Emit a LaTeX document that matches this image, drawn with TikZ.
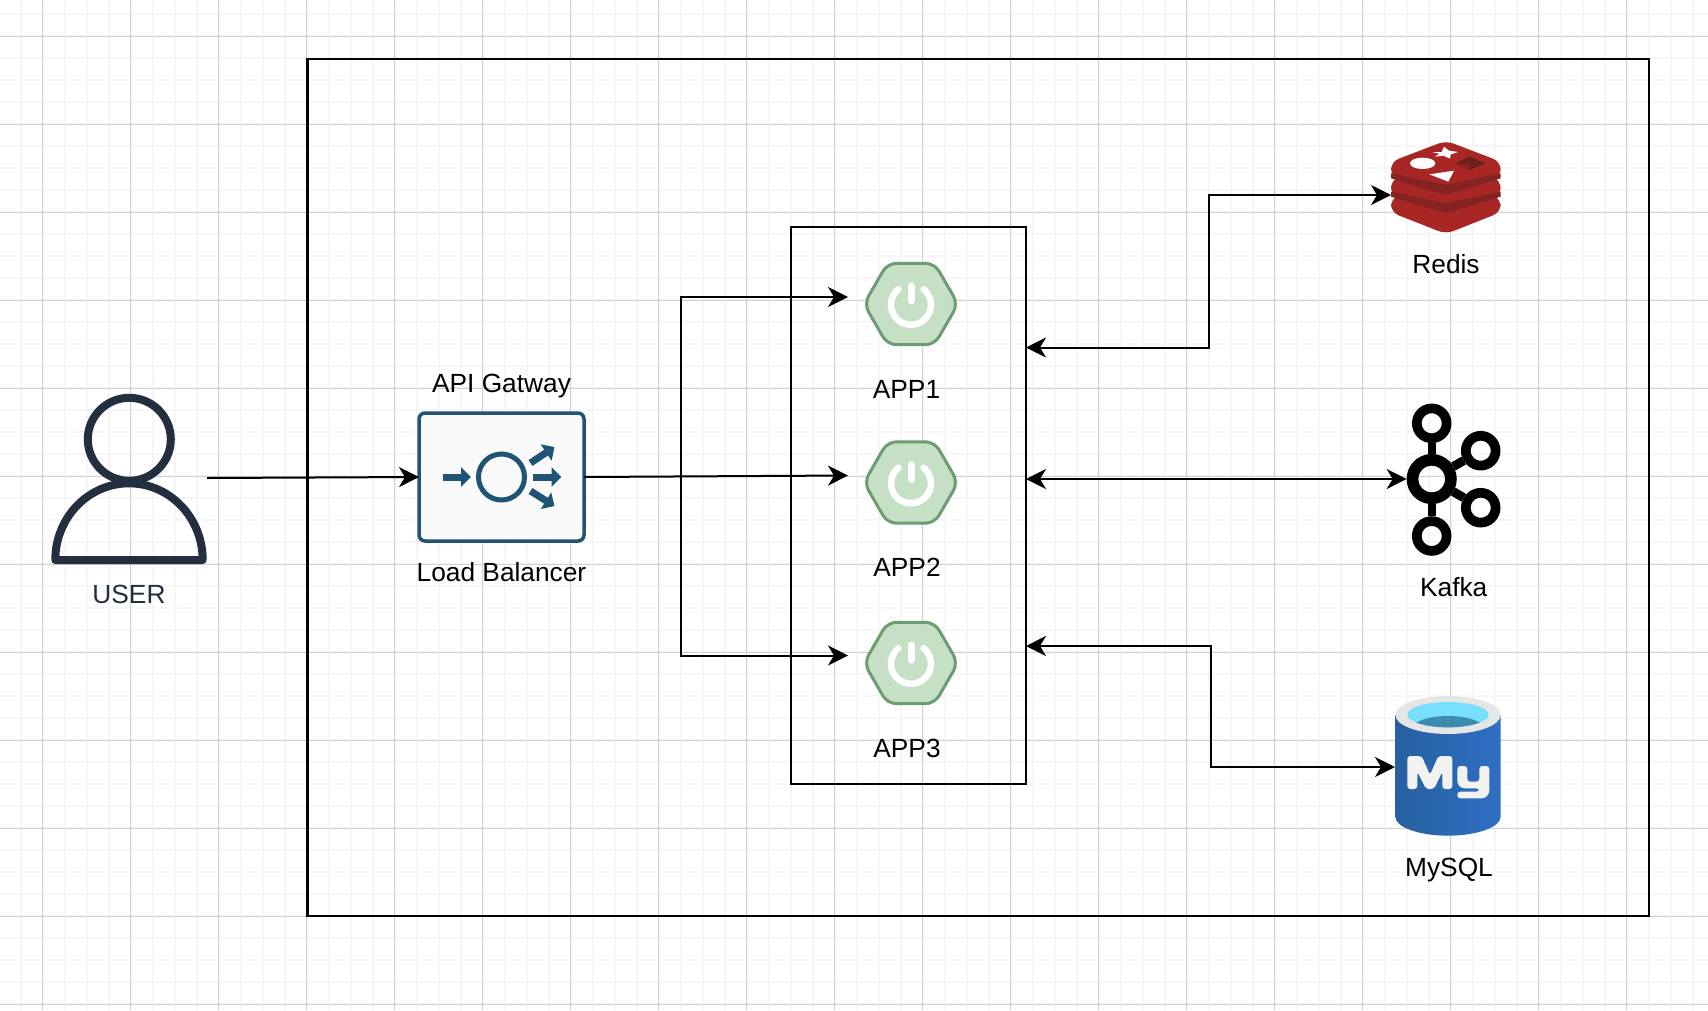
\documentclass[tikz,border=0pt]{standalone}
\usepackage{fontspec}
\setmainfont{Liberation Sans}
\usetikzlibrary{shapes.geometric, arrows.meta, positioning}

\definecolor{gridmajor}{HTML}{D0D0D0}
\definecolor{gridminor}{HTML}{F6F6F6}
\definecolor{userink}{HTML}{232F3E}
\definecolor{lbink}{HTML}{1F5475}
\definecolor{lbfill}{HTML}{FAFAFA}
\definecolor{appfill}{HTML}{C6E0C5}
\definecolor{appline}{HTML}{6D9B72}
\definecolor{redisred}{HTML}{A82623}
\definecolor{redisdark}{HTML}{842321}
\definecolor{redisdeep}{HTML}{6B1F1B}
\definecolor{myleft}{HTML}{26609F}
\definecolor{myright}{HTML}{2F6FC4}
\definecolor{myrim}{HTML}{E6E6E6}
\definecolor{mywater}{HTML}{76E0FD}
\definecolor{mydeep}{HTML}{3F8BB0}
\definecolor{myletter}{HTML}{F2F2F2}

\begin{document}
\begin{tikzpicture}[
    x=1pt, y=-1pt,
    frame/.style={
        rectangle,
        draw,
        line width=2.4pt,
        inner sep=0pt,
        outer sep=0pt
    },
    hidden/.style={
        rectangle,
        inner sep=0pt,
        outer sep=0pt
    },
    label/.style={
        font=\fontsize{26.3}{30}\selectfont,
        inner sep=0pt,
        text height=19pt,
        text depth=5pt
    },
    app/.style={
        regular polygon,
        regular polygon sides=6,
        draw=appline,
        fill=appfill,
        line width=3pt,
        rounded corners=9pt,
        minimum size=94pt,
        inner sep=0pt,
        outer sep=0pt
    },
    bigring/.style={
        circle,
        draw,
        line width=11.7pt,
        minimum size=38.4pt,
        inner sep=0pt
    },
    smallring/.style={
        circle,
        draw,
        line width=9.7pt,
        minimum size=29.8pt,
        inner sep=0pt
    },
    arrow/.style={-{Stealth[length=20pt,width=20pt,inset=6pt]},line width=2pt},
    biarrow/.style={{Stealth[length=20pt,width=20pt,inset=6pt]}-{Stealth[length=20pt,width=20pt,inset=6pt]},line width=2pt},
    lbarrow/.style={-{Triangle[length=10pt,width=19pt]},line width=7pt,draw=lbink},
    springpower/.pic={
        \draw[white,line width=6.5pt,line cap=round] (-12.6,-14.8) arc[start angle=129,end angle=411,radius=20pt];
        \draw[white,line width=7pt,line cap=round] (0,-18) -- (0,-3);
    }
]
\useasboundingbox (0,0) rectangle (1708,1010);
\fill[white] (0,0) rectangle (1708,1010);

% grid paper
\foreach \i in {0,...,77}
    \draw[gridminor,line width=2pt] (20.5+22*\i,0) -- (20.5+22*\i,1010);
\foreach \i in {0,...,45}
    \draw[gridminor,line width=2pt] (0,14+22*\i) -- (1708,14+22*\i);
\foreach \i in {0,...,19}
    \draw[gridmajor,line width=1pt] (42.5+88*\i,0) -- (42.5+88*\i,1010);
\foreach \i in {0,...,11}
    \draw[gridmajor,line width=1pt] (0,36+88*\i) -- (1708,36+88*\i);

% boxes
\node[frame, minimum width=1341.5pt, minimum height=857pt] (cloud) at (978.25,487.5) {};
\node[frame, minimum width=235pt, minimum height=557pt] (appbox) at (908.5,505.5) {};

% user
\node[hidden, minimum width=156pt, minimum height=176pt] (user) at (129,478) {};
\draw[userink,line width=8pt] (129.3,439.3) circle[radius=41.5pt];
\draw[userink,line width=8pt,line join=round] (55.3,560) arc[start angle=180,end angle=0,x radius=73.7pt,y radius=76.7pt] -- cycle;
\node[label, text=userink, below=18pt of user] (userlabel) {USER};

% gateway
\node[draw=lbink, fill=lbfill, line width=3.5pt, rounded corners=6pt, minimum width=165pt, minimum height=128pt, inner sep=0pt, outer sep=0pt] (lb) at (501.5,477) {};
\node[circle, draw=lbink, line width=5pt, minimum size=46pt, inner sep=0pt] (lbhub) at (lb) {};
\begin{scope}[shift={(lb.center)}]
    \draw[lbarrow] (-58.8,0) -- (-30.5,0);
    \draw[lbarrow] (31,0) -- (60,0);
    \draw[lbarrow] (29,-14) -- (53,-30);
    \draw[lbarrow] (29,14) -- (53,29);
\end{scope}
\node[label, above=15pt of lb] (lbtop) {API Gatway};
\node[label, below=21pt of lb] (lbbottom) {Load Balancer};

% apps
\node[app] (app1) at (911,304) {};
\node[app] (app2) at (911,482.5) {};
\node[app] (app3) at (911,663) {};
\pic at (app1) {springpower};
\pic at (app2) {springpower};
\pic at (app3) {springpower};
\node[label, below=35pt of app1, xshift=-4.5pt] (app1label) {APP1};
\node[label, below=34pt of app2, xshift=-4pt] (app2label) {APP2};
\node[label, below=35pt of app3, xshift=-4pt] (app3label) {APP3};

% redis
\node[hidden, minimum width=110pt, minimum height=90pt] (redis) at (1446,195) {};
\begin{scope}[shift={(1360,120)},x=0.3333pt,y=-0.3333pt]
    \fill[redisred,rounded corners=8pt] (93,235) -- (258,172) -- (422,235) -- (422,277) -- (258,342) -- (93,277) -- cycle;
    \fill[redisred,rounded corners=8pt] (93,180) -- (258,117) -- (422,180) -- (422,226) -- (258,290) -- (93,226) -- cycle;
    \fill[redisred,rounded corners=8pt] (93,125) -- (258,62) -- (422,125) -- (422,170) -- (258,232) -- (93,170) -- cycle;
    \fill[redisdark] (93,160) -- (258,195) -- (422,160) -- (422,175) -- (258,225) -- (93,175) -- cycle;
    \fill[redisdark] (93,215) -- (258,250) -- (422,215) -- (422,230) -- (258,280) -- (93,230) -- cycle;
    \fill[white] (217,97) -- (245,96) -- (252,80) -- (267,92) -- (295,96) -- (272,103) -- (270,116) -- (250,107) -- (225,110) -- (238,101) -- cycle;
    \fill[white] (188,130) ellipse[x radius=38,y radius=17];
    \fill[white] (208,163) -- (282,152) -- (265,185) -- cycle;
    \fill[redisdeep] (285,130) -- (330,110) -- (375,130) -- (330,150) -- cycle;
    \fill[redisdark] (285,130) -- (330,130) -- (330,150) -- cycle;
\end{scope}
\node[label, below=14.5pt of redis] (redislabel) {Redis};

% kafka
\node[bigring] (kafka) at (1431.7,479) {};
\node[smallring] (ktop) at (1431.7,423.3) {};
\node[smallring] (kbottom) at (1431.7,536) {};
\node[smallring] (kupper) at (1480.7,450.7) {};
\node[smallring] (klower) at (1480.7,507.7) {};
\draw[line width=8pt] (kafka) -- (ktop);
\draw[line width=8pt] (kafka) -- (kbottom);
\draw[line width=9pt] (kafka) -- (kupper);
\draw[line width=9pt] (kafka) -- (klower);
\node[label, below=21.5pt of kbottom, xshift=22pt] (kafkalabel) {Kafka};

% mysql
\node[hidden, minimum width=106pt, minimum height=140pt] (mysql) at (1448,767) {};
\begin{scope}[shift={(1380,680)},x=0.3333pt,y=-0.3333pt]
    \shade[left color=myleft,right color=myright,shading angle=90] (45,105) -- (362,105) -- (362,410) arc[start angle=0,end angle=-180,x radius=52.7pt,y radius=19pt] -- cycle;
    \fill[myrim] (204,105) ellipse[x radius=158,y radius=57];
    \fill[mywater] (204,104) ellipse[x radius=122,y radius=38];
    \begin{scope}
        \clip (204,104) ellipse[x radius=122,y radius=38];
        \fill[mydeep] (204,148) ellipse[x radius=110,y radius=40];
    \end{scope}
    \fill[myletter,rounded corners=3pt] (82,327) -- (82,228) -- (125,228) -- (150,285) -- (175,228) -- (217,228) -- (217,327) -- (187,327) -- (187,275) -- (162,327) -- (138,327) -- (112,275) -- (112,327) -- cycle;
    \fill[myletter,rounded corners=3pt] (232,258) -- (262,258) -- (262,305) -- (298,305) -- (298,258) -- (328,258) -- (328,340) -- (315,355) -- (232,355) -- (232,335) -- (298,335) -- (298,325) -- (245,325) -- (232,312) -- cycle;
\end{scope}
\node[label, below=20.5pt of mysql, xshift=1pt] (mysqllabel) {MySQL};

% connectors
\coordinate (app1in) at (848,297);
\coordinate (app2in) at (848,475.5);
\coordinate (app3in) at (848,655.5);
\coordinate (split) at (681,476);
\coordinate (redisport) at (1026,347.5);
\coordinate (kafkaport) at (1026,479);
\coordinate (mysqlport) at (1026,646);

\draw[arrow] (user.east) -- (lb.west);
\draw[arrow] (lb.east) -- (app2in);
\draw[arrow] (split) |- (app1in);
\draw[arrow] (split) |- (app3in);
\draw[biarrow] (redisport) -- ++(183,0) |- (redis.west);
\draw[biarrow] (kafkaport) -- (kafka.west);
\draw[biarrow] (mysqlport) -- ++(185,0) |- (mysql.west);

\end{tikzpicture}
\end{document}
